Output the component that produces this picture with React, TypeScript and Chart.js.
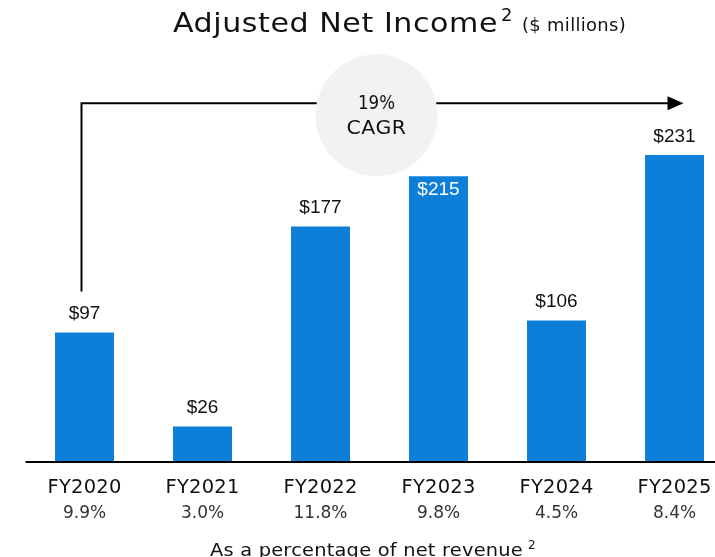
import React, { useEffect, useRef } from "react";
import { Chart, registerables } from "chart.js";

Chart.register(...registerables);

const categories = ["FY2020", "FY2021", "FY2022", "FY2023", "FY2024", "FY2025"];
const values = [97, 26, 177, 215, 106, 231];
const valueLabels = ["$97", "$26", "$177", "$215", "$106", "$231"];
const pctLabels = ["9.9%", "3.0%", "11.8%", "9.8%", "4.5%", "8.4%"];
const labelInside = [false, false, false, true, false, false];
const cagrLines = ["19%", "CAGR"];
const titleMain = "Adjusted Net Income";
const titleSup = "2";
const titleUnit = "($ millions)";
const footText = "As a percentage of net revenue";
const footSup = "2";
const arrowLevel = 270;
const circleLevel = 261;
const yMax = 300;

const GEO = "'DejaVu Sans', sans-serif";
const NUM = "'Liberation Sans', Arial, sans-serif";
const BLUE = "#0e7fd9";

// draw text stretched horizontally to a given width, starting at left
function fitText(ctx: any, text: string, left: number, baseline: number, width: number, spacing = 0) {
  ctx.letterSpacing = `${spacing}px`;
  const natural = ctx.measureText(text).width;
  const k = width / natural;
  ctx.save();
  ctx.textAlign = "left";
  ctx.translate(left, baseline);
  ctx.scale(k, 1);
  ctx.fillText(text, 0, 0);
  ctx.restore();
  ctx.letterSpacing = "0px";
}

const overlay = {
  id: "overlay",
  afterDraw(chart: any) {
    const { ctx, chartArea, scales } = chart;
    const x = scales.x;
    const y = scales.y;
    const meta = chart.getDatasetMeta(0);
    ctx.save();

    // axis line
    ctx.strokeStyle = "#000";
    ctx.lineWidth = 2;
    ctx.beginPath();
    ctx.moveTo(chartArea.left, chartArea.bottom + 1);
    ctx.lineTo(715, chartArea.bottom + 1);
    ctx.stroke();

    // value labels
    ctx.font = `19px ${NUM}`;
    ctx.textAlign = "center";
    meta.data.forEach((bar: any, i: number) => {
      if (labelInside[i]) {
        ctx.fillStyle = "#fff";
        ctx.textBaseline = "top";
        ctx.fillText(valueLabels[i], bar.x, bar.y + 4);
      } else {
        ctx.fillStyle = "#111";
        ctx.textBaseline = "bottom";
        ctx.fillText(valueLabels[i], bar.x, bar.y - 9);
      }
    });

    // category & pct labels
    ctx.textBaseline = "alphabetic";
    ctx.textAlign = "center";
    categories.forEach((c, i) => {
      const px = x.getPixelForValue(i);
      ctx.fillStyle = "#111";
      ctx.font = `19px ${GEO}`;
      fitText(ctx, c, px - 37, chartArea.bottom + 32, 74, 0.2);
      ctx.fillStyle = "#333";
      ctx.font = `17px ${GEO}`;
      ctx.textAlign = "center";
      ctx.fillText(pctLabels[i], px, chartArea.bottom + 57);
    });

    // footer
    ctx.fillStyle = "#111";
    ctx.font = `18px ${GEO}`;
    fitText(ctx, footText, 210, 556, 313, 0.2);
    ctx.font = `12px ${GEO}`;
    ctx.textAlign = "left";
    ctx.fillText(footSup, 528, 549);

    // title
    ctx.fillStyle = "#111";
    ctx.font = `27px ${GEO}`;
    fitText(ctx, titleMain, 173, 32, 325, 0.5);
    ctx.font = `18px ${GEO}`;
    ctx.textAlign = "left";
    ctx.fillText(titleSup, 501, 21);
    ctx.font = `17px ${GEO}`;
    fitText(ctx, titleUnit, 522, 31, 104, 0.3);

    // arrow
    const ay = y.getPixelForValue(arrowLevel);
    const ax0 = x.getPixelForValue(0) - 3;
    const axBottom = meta.data[0].y - 41;
    const axEnd = x.getPixelForValue(5) + 9;
    ctx.strokeStyle = "#000";
    ctx.lineWidth = 2;
    ctx.beginPath();
    ctx.moveTo(ax0, axBottom);
    ctx.lineTo(ax0, ay);
    ctx.lineTo(axEnd - 14, ay);
    ctx.stroke();
    ctx.fillStyle = "#000";
    ctx.beginPath();
    ctx.moveTo(axEnd, ay);
    ctx.lineTo(axEnd - 16, ay - 7);
    ctx.lineTo(axEnd - 16, ay + 7);
    ctx.closePath();
    ctx.fill();

    // CAGR circle
    const cx = x.getPixelForValue(2.5) - 3;
    const cy = y.getPixelForValue(circleLevel);
    ctx.fillStyle = "#f2f2f2";
    ctx.beginPath();
    ctx.arc(cx, cy, 61, 0, Math.PI * 2);
    ctx.fill();
    ctx.fillStyle = "#111";
    ctx.font = `19px ${GEO}`;
    ctx.textAlign = "center";
    ctx.textBaseline = "alphabetic";
    ctx.fillText(cagrLines[0], cx, cy - 6, 37);
    ctx.font = `19px ${GEO}`;
    fitText(ctx, cagrLines[1], cx - 30, cy + 19, 60, 0.5);

    ctx.restore();
  },
};

export default function App() {
  const ref = useRef<HTMLCanvasElement | null>(null);
  useEffect(() => {
    if (!ref.current) return;
    const chart = new Chart(ref.current, {
      type: "bar",
      data: {
        labels: categories,
        datasets: [
          {
            data: values,
            backgroundColor: BLUE,
            barPercentage: 1,
            categoryPercentage: 0.5,
            borderWidth: 0,
          },
        ],
      },
      options: {
        responsive: false,
        animation: false,
        layout: { padding: { left: 25.5, right: 11.5, top: 63.6, bottom: 96 } },
        plugins: { legend: { display: false }, tooltip: { enabled: false }, title: { display: false } },
        scales: {
          x: { display: false },
          y: { display: false, min: 0, max: yMax },
        },
      },
      plugins: [overlay],
    });
    return () => chart.destroy();
  }, []);
  return (
    <div style={{ position: "fixed", left: 0, top: 0, width: 715, height: 557, overflow: "hidden", background: "#fff" }}>
      <canvas ref={ref} width={745} height={557} style={{ width: 745, height: 557, display: "block" }} />
    </div>
  );
}
